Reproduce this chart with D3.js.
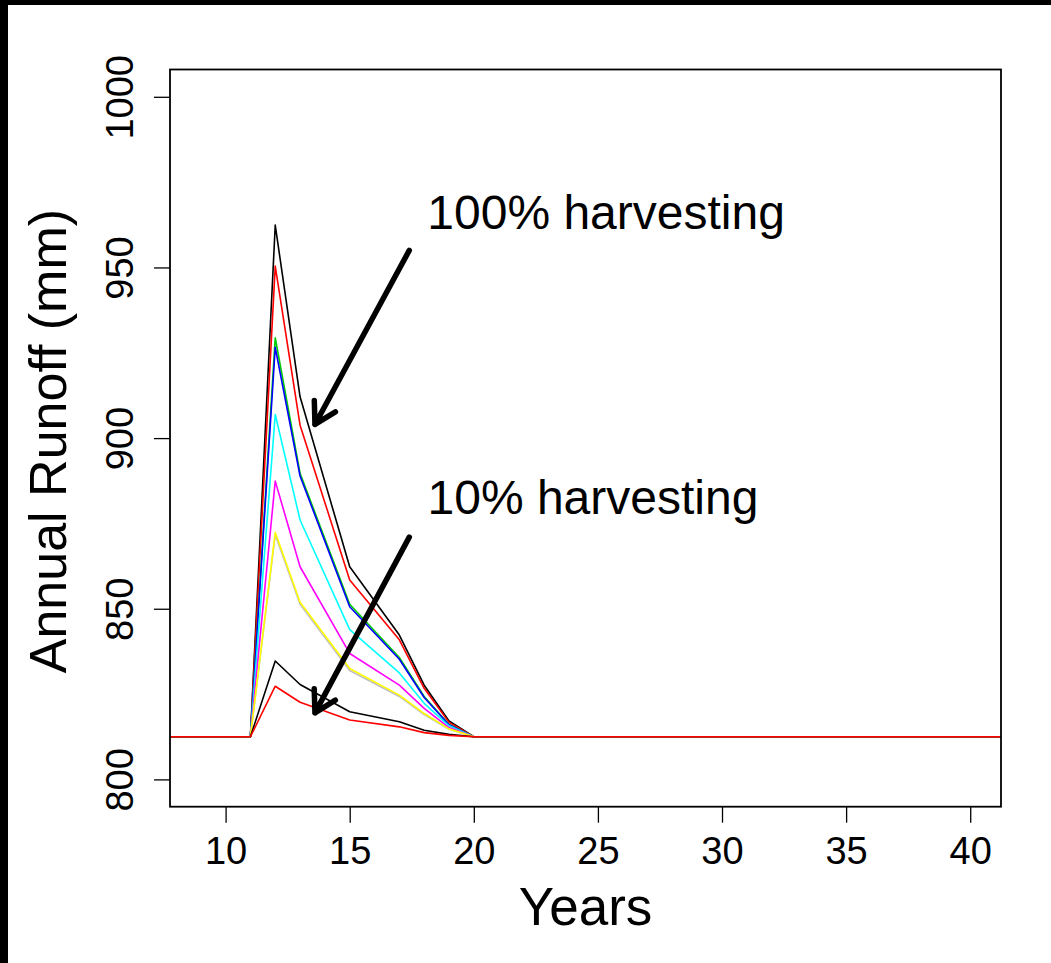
<!DOCTYPE html>
<html>
<head>
<meta charset="utf-8">
<script src="https://cdn.jsdelivr.net/npm/d3@7"></script>
<style>
  html, body { margin: 0; padding: 0; background: #fff; }
  svg { display: block; font-family: "Liberation Sans", Arial, sans-serif; }
</style>
</head>
<body>
<svg id="chart" width="1051" height="963"></svg>
<script>
// ---- data ----
const years = [0, 11, 12, 13, 15, 17, 18, 19, 20, 50];
const h100 = [812.5, 812.5, 962.4, 912.1, 862.3, 842.3, 827.6, 817.1, 812.5, 812.5];
const h90  = [812.5, 812.5, 950.4, 903.8, 858.4, 840.9, 826.7, 816.7, 812.5, 812.5];
const h80  = [812.5, 812.5, 929.4, 889.7, 851.3, 835.7, 824.3, 816.1, 812.5, 812.5];
const h70  = [812.5, 812.5, 926.6, 888.9, 850.6, 835.2, 824.0, 816.0, 812.5, 812.5];
const h60  = [812.5, 812.5, 906.9, 876.0, 843.9, 831.2, 822.3, 815.7, 812.5, 812.5];
const h50  = [812.5, 812.5, 887.4, 862.3, 836.9, 827.6, 820.8, 815.2, 812.5, 812.5];
const h40  = [812.5, 812.5, 872.4, 851.9, 832.5, 824.7, 819.3, 814.8, 812.5, 812.5];
const h30  = [812.5, 812.5, 871.7, 851.3, 831.9, 824.3, 819.0, 814.7, 812.5, 812.5];
const h20  = [812.5, 812.5, 834.7, 827.8, 819.8, 816.9, 814.4, 813.2, 812.5, 812.5];
const h10  = [812.5, 812.5, 827.3, 822.6, 817.4, 815.4, 813.7, 812.9, 812.5, 812.5];
// drawing order (later on top)
const seriesList = [h100, h90, h80, h70, h60, h50, h30, h40, h20, h10];
const seriesColors = ["#000000", "#FF0000", "#00CD00", "#0000FF", "#00FFFF",
                      "#FF00FF", "#BEBEBE", "#FFFF00", "#000000", "#FF0000"];
const xTicks = [10, 15, 20, 25, 30, 35, 40];
const yTicks = [800, 850, 900, 950, 1000];
const xLimits = [9, 40];
const yLimits = [800, 1000];
const annLabels = ["100% harvesting", "10% harvesting"];
const annTextPos = [[25.33, 961.3], [24.8, 877.8]];
const annTail = [[17.4, 955], [17.4, 871]];
const annHead = [[13.6, 904], [13.6, 819.5]];

(function () {
const svg = d3.select("#chart");
const W = 1051, H = 963;
const pL = 170, pR = 1001, pT = 69.5, pB = 806.7;

function expand(lim) {
  const d = (lim[1] - lim[0]) * 0.04;
  return [lim[0] - d, lim[1] + d];
}
const x = d3.scaleLinear().domain(expand(xLimits)).range([pL, pR]);
const y = d3.scaleLinear().domain(expand(yLimits)).range([pB, pT]);

svg.append("rect").attr("x", 0).attr("y", 0).attr("width", W).attr("height", H).attr("fill", "#fff");
svg.append("rect").attr("x", 0).attr("y", 0).attr("width", W).attr("height", 5).attr("fill", "#000");
svg.append("rect").attr("x", 0).attr("y", 0).attr("width", 8).attr("height", H).attr("fill", "#000");

svg.append("defs").append("clipPath").attr("id", "clip")
  .append("rect").attr("x", pL).attr("y", pT).attr("width", pR - pL).attr("height", pB - pT);

const line = d3.line().x((d, i) => x(years[i])).y(d => y(d));
const g = svg.append("g").attr("clip-path", "url(#clip)");
seriesList.forEach((s, i) => {
  g.append("path").attr("d", line(s)).attr("fill", "none")
    .attr("stroke", seriesColors[i]).attr("stroke-width", 1.6)
    .attr("stroke-linejoin", "round");
});

const xAxis = d3.axisBottom(x).tickValues(xTicks).tickSize(16).tickFormat(d3.format("d"));
const gx = svg.append("g").attr("transform", `translate(0,${pB})`).call(xAxis);
gx.select(".domain").remove();
gx.selectAll(".tick line").attr("stroke", "#000").attr("stroke-width", 1.3);
gx.selectAll(".tick text").attr("font-size", 38).attr("fill", "#000")
  .attr("dy", null).attr("y", 57);

const yAxis = d3.axisLeft(y).tickValues(yTicks).tickSize(16).tickFormat(d3.format("d"));
const gy = svg.append("g").attr("transform", `translate(${pL},0)`).call(yAxis);
gy.select(".domain").remove();
gy.selectAll(".tick line").attr("stroke", "#000").attr("stroke-width", 1.3);
gy.selectAll(".tick text").attr("font-size", 38).attr("fill", "#000")
  .attr("x", null).attr("dy", null).attr("text-anchor", "middle")
  .attr("transform", "translate(-37,0) rotate(-90)");

svg.append("rect").attr("x", pL).attr("y", pT).attr("width", pR - pL).attr("height", pB - pT)
  .attr("fill", "none").attr("stroke", "#000").attr("stroke-width", 1.8);

svg.append("text").attr("x", (pL + pR) / 2).attr("y", 925).attr("text-anchor", "middle")
  .attr("font-size", 53).text("Years");
svg.append("text").attr("transform", `translate(66,${(pT + pB) / 2 + 3}) rotate(-90)`)
  .attr("text-anchor", "middle").attr("font-size", 52).text("Annual Runoff (mm)");

annLabels.forEach((lab, i) => {
  svg.append("text").attr("x", x(annTextPos[i][0])).attr("y", y(annTextPos[i][1]))
    .attr("text-anchor", "middle").attr("font-size", 48).text(lab);
  const x0 = x(annTail[i][0]), y0 = y(annTail[i][1]);
  const x1 = x(annHead[i][0]), y1 = y(annHead[i][1]);
  const ang = Math.atan2(y0 - y1, x0 - x1);
  const L = 24, a = Math.PI / 6;
  const p = d3.path();
  p.moveTo(x0, y0); p.lineTo(x1, y1);
  p.moveTo(x1 + L * Math.cos(ang + a), y1 + L * Math.sin(ang + a));
  p.lineTo(x1, y1);
  p.lineTo(x1 + L * Math.cos(ang - a), y1 + L * Math.sin(ang - a));
  svg.append("path").attr("d", p.toString()).attr("fill", "none").attr("stroke", "#000")
    .attr("stroke-width", 5.5).attr("stroke-linecap", "round").attr("stroke-linejoin", "round");
});
})();
</script>
</body>
</html>
